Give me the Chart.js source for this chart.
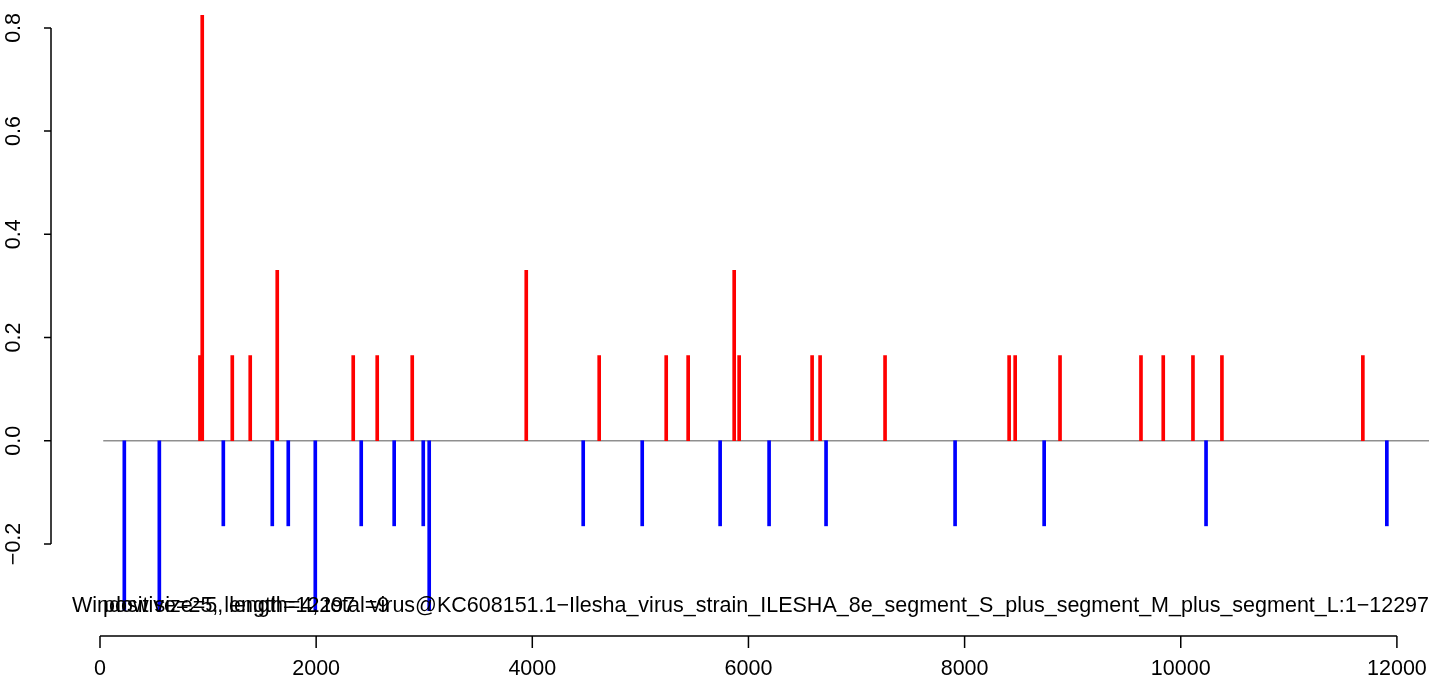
<!DOCTYPE html>
<html>
<head>
<meta charset="utf-8">
<script src="https://cdn.jsdelivr.net/npm/chart.js@4"></script>
<style>
  html, body { margin: 0; padding: 0; background: #fff; }
  #wrap { width: 1429px; height: 684px; position: relative; }
</style>
</head>
<body>
<div id="wrap"><canvas id="plot"></canvas></div>
<script>
// window positions (bp) and scores
const posPositions = [925, 946, 1224, 1390, 1640, 2343, 2565, 2889, 3944, 4619, 5239, 5442, 5868,
    5914, 6589, 6663, 7264, 8412, 8468, 8883, 9632, 9838, 10113, 10381, 11685];
const posValues = [0.165, 0.825, 0.165, 0.165, 0.33, 0.165, 0.165, 0.165, 0.33, 0.165, 0.165, 0.165, 0.33,
    0.165, 0.165, 0.165, 0.165, 0.165, 0.165, 0.165, 0.165, 0.165, 0.165, 0.165, 0.165];

const negPositions = [225, 549, 1141, 1594, 1742, 1992, 2417, 2722, 2991, 3046, 4471, 5017, 5738,
    6191, 6718, 7912, 8736, 10234, 11907];
const negValues = [-0.33, -0.33, -0.165, -0.165, -0.165, -0.33, -0.165, -0.165, -0.165, -0.33, -0.165, -0.165, -0.165,
    -0.165, -0.165, -0.165, -0.165, -0.165, -0.165];

const seqStart = 30;
const seqLength = 12297;

const xTicks = [0, 2000, 4000, 6000, 8000, 10000, 12000];
const yTicks = [-0.2, 0, 0.2, 0.4, 0.6, 0.8];
const yTickLabels = ['\u22120.2', '0.0', '0.2', '0.4', '0.6', '0.8'];

// three labels that R printed on top of each other
const windowNote = 'Window size=5, length=4, total=9';
const countNote = 'positive=25, length=12297';
const segmentName = 'virus@KC608151.1\u2212Ilesha_virus_strain_ILESHA_8e_segment_S_plus_segment_M_plus_segment_L:1\u221212297';

const FONT = '"Liberation Sans", Arial, Helvetica, sans-serif';

// draws the R-style axes and the overlapping notes
const rAxes = {
    id: 'rAxes',
    afterDraw(chart) {
        const ctx = chart.ctx;
        const xs = chart.scales.x;
        const ys = chart.scales.y;
        ctx.save();
        ctx.strokeStyle = '#000';
        ctx.fillStyle = '#000';
        ctx.lineWidth = 1.5;
        ctx.font = '21.5px ' + FONT;

        // y axis
        const ax = 51;
        ctx.beginPath();
        ctx.moveTo(ax, ys.getPixelForValue(yTicks[yTicks.length - 1]));
        ctx.lineTo(ax, ys.getPixelForValue(yTicks[0]));
        yTicks.forEach(v => {
            const py = ys.getPixelForValue(v);
            ctx.moveTo(ax, py);
            ctx.lineTo(ax - 7, py);
        });
        ctx.stroke();
        ctx.textAlign = 'center';
        ctx.textBaseline = 'middle';
        yTicks.forEach((v, i) => {
            ctx.save();
            ctx.translate(14, ys.getPixelForValue(v));
            ctx.rotate(-Math.PI / 2);
            ctx.fillText(yTickLabels[i], 0, 0);
            ctx.restore();
        });

        // x axis
        const ay = 636;
        ctx.beginPath();
        ctx.moveTo(xs.getPixelForValue(xTicks[0]), ay);
        ctx.lineTo(xs.getPixelForValue(xTicks[xTicks.length - 1]), ay);
        xTicks.forEach(v => {
            const px = xs.getPixelForValue(v);
            ctx.moveTo(px, ay);
            ctx.lineTo(px, ay + 12);
        });
        ctx.stroke();
        xTicks.forEach(v => {
            ctx.fillText(String(v), xs.getPixelForValue(v), 669);
        });

        // notes
        ctx.textBaseline = 'alphabetic';
        ctx.textAlign = 'left';
        ctx.fillText(windowNote, 72, 612);
        ctx.fillText(countNote, 103, 612);
        ctx.textAlign = 'right';
        ctx.fillText(segmentName, xs.getPixelForValue(seqLength), 612);
        ctx.restore();
    }
};

const ctx = document.getElementById('plot').getContext('2d');

new Chart(ctx, {
    type: 'bar',
    data: {
        datasets: [
            {
                type: 'line',
                data: [{ x: seqStart, y: 0 }, { x: seqLength, y: 0 }],
                borderColor: '#8f8f8f',
                borderWidth: 1.5,
                pointRadius: 0,
                order: 2
            },
            {
                data: posPositions.map((x, i) => ({ x, y: posValues[i] })),
                backgroundColor: '#ff0000',
                barThickness: 3,
                grouped: false,
                order: 1
            },
            {
                data: negPositions.map((x, i) => ({ x, y: negValues[i] })),
                backgroundColor: '#0000ff',
                barThickness: 3,
                grouped: false,
                order: 1
            }
        ]
    },
    options: {
        responsive: true,
        maintainAspectRatio: false,
        animation: false,
        devicePixelRatio: 1,
        layout: { padding: { left: 100, right: 0, top: 15, bottom: 73 } },
        plugins: {
            legend: { display: false },
            tooltip: { enabled: false }
        },
        scales: {
            x: { type: 'linear', min: 0, max: seqLength, offset: false, display: false },
            y: { type: 'linear', min: -0.33, max: 0.825, display: false }
        }
    },
    plugins: [rAxes]
});
</script>
</body>
</html>
